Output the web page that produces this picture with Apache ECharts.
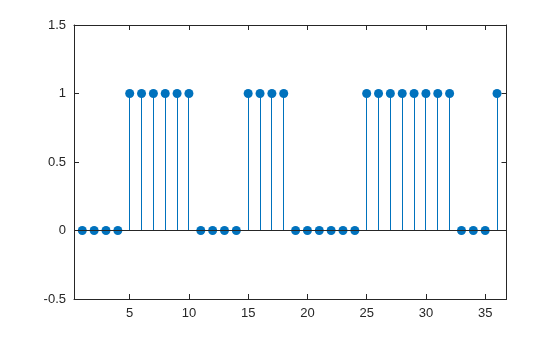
<!DOCTYPE html>
<html>
<head>
<meta charset="utf-8">
<script src="https://cdn.jsdelivr.net/npm/echarts@6/dist/echarts.min.js"></script>
<style>html,body{margin:0;padding:0;background:#fff}#c{width:560px;height:337px}</style>
</head>
<body>
<div id="c"></div>
<script>
var xValues = [1,2,3,4,5,6,7,8,9,10,11,12,13,14,15,16,17,18,19,20,21,22,23,24,25,26,27,28,29,30,31,32,33,34,35,36];
var yValues = [0,0,0,0,1,1,1,1,1,1,0,0,0,0,1,1,1,1,0,0,0,0,0,0,1,1,1,1,1,1,1,1,0,0,0,1];
var xTicks = [5,10,15,20,25,30,35];
var yTicks = [-0.5,0,0.5,1,1.5];

var points = xValues.map(function(x,i){return [x, yValues[i]];});
var axisColor = '#262626';
var font = 'Liberation Sans, Arial, sans-serif';
var blue = '#0072BD';

function xAxisCfg(pos, showLabel){
  return {
    type:'value', position:pos, min:0.3, max:36.8,
    axisLine:{show:true, onZero:false, lineStyle:{color:axisColor,width:1}},
    axisTick:{show:true, inside:true, length:5, customValues:xTicks, lineStyle:{color:axisColor}},
    axisLabel:{show:showLabel, customValues:xTicks, color:axisColor, fontSize:13, fontFamily:font, margin:8},
    splitLine:{show:false}
  };
}
function yAxisCfg(pos, showLabel){
  return {
    type:'value', position:pos, min:-0.5, max:1.5, interval:0.5,
    axisLine:{show:true, onZero:false, lineStyle:{color:axisColor,width:1}},
    axisTick:{show:true, inside:true, length:5, lineStyle:{color:axisColor}},
    axisLabel:{show:showLabel, color:axisColor, fontSize:13, fontFamily:font, margin:8,
      formatter:function(v){return String(v);}},
    splitLine:{show:false}
  };
}

var chart = echarts.init(document.getElementById('c'), null, {renderer:'canvas'});
chart.setOption({
  animation:false,
  grid:{left:74, right:53.5, top:25, bottom:38, containLabel:false},
  xAxis:[xAxisCfg('bottom', true), xAxisCfg('top', false)],
  yAxis:[yAxisCfg('left', true), yAxisCfg('right', false)],
  series:[
    {
      type:'custom', xAxisIndex:0, yAxisIndex:0, data:points, z:2,
      renderItem:function(params, api){
        var p0 = api.coord([api.value(0), 0]);
        var p1 = api.coord([api.value(0), api.value(1)]);
        var sx = Math.floor(p0[0]) + 0.5;
        return {type:'line', shape:{x1:sx,y1:p0[1],x2:sx,y2:p1[1]},
          style:{stroke:blue, lineWidth:1}};
      },
      markLine:{
        silent:true, symbol:['none','none'], label:{show:false},
        lineStyle:{color:axisColor, width:1, type:'solid'},
        data:[{yAxis:0}]
      }
    },
    {
      type:'scatter', xAxisIndex:0, yAxisIndex:0, data:points, z:3,
      symbol:'circle', symbolSize:9,
      itemStyle:{color:blue, opacity:1}
    }
  ]
});
</script>
</body>
</html>
